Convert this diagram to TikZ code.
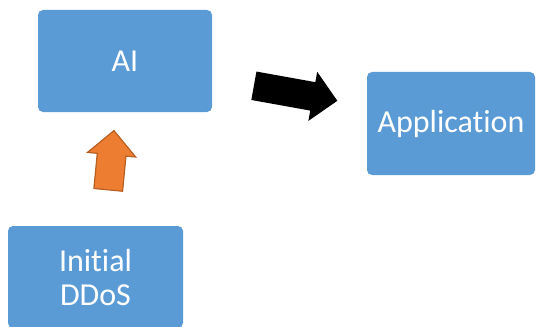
\documentclass[tikz,border=0pt]{standalone}
\usepackage{fontspec}
\setmainfont{Carlito}[Ligatures={NoCommon}]
\usepackage{tikz}
\usetikzlibrary{shapes.arrows}

\definecolor{boxblue}{HTML}{5B9BD5}
\definecolor{arroworange}{HTML}{ED7D31}
\definecolor{orangeedge}{HTML}{B85F22}

\tikzset{
  stage/.style={fill=boxblue, rounded corners=5pt, text=white, align=center,
    font=\fontsize{32}{34}\selectfont, inner sep=0pt},
  blockarrow/.style={single arrow, inner xsep=0pt, single arrow tip angle=90}
}

\begin{document}
\begin{tikzpicture}[x=1pt,y=-1pt]
    \useasboundingbox (0,0) rectangle (537,326);

    % AI box (top left)
    \node[stage, minimum width=174pt, minimum height=102pt] (ai) at (125,61) {AI};

    % Application box (right)
    \node[stage, minimum width=168pt, minimum height=103pt] (app) at (451,123.5) {Application};

    % Initial DDoS box (bottom left, cut by the frame)
    \node[stage, minimum width=175pt, minimum height=102pt] (ddos) at (95.5,277) {Initial\\DDoS};

    % Black block arrow: AI to Application
    \node[blockarrow, fill=black, inner ysep=14.25pt, minimum height=84.8pt,
      single arrow head extend=10.5pt, rotate=-10.2] (push) at (288.5,92) {};

    % Orange block arrow: Initial DDoS up to AI
    \node[blockarrow, fill=arroworange, draw=orangeedge, line width=1.2pt,
      inner ysep=13.8pt, minimum height=59.5pt,
      single arrow head extend=9.8pt, rotate=84.5] (feed) at (110.4,167.4) {};
\end{tikzpicture}
\end{document}
